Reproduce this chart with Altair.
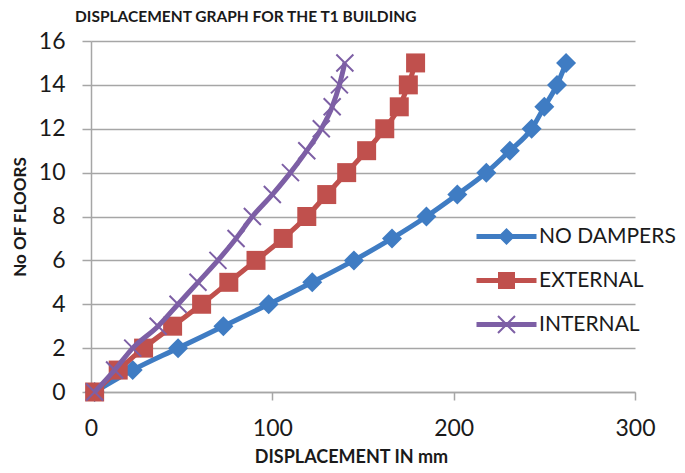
import altair as alt
import pandas as pd

floors = list(range(16))
no_dampers = [2, 23, 48, 73, 98, 122, 145, 166, 185, 202, 218, 231, 243, 250, 257, 262]
external = [2, 15, 29, 45, 61, 76, 91, 106, 119, 130, 141, 152, 162, 170, 175, 179]
internal = [2, 13, 23, 37, 48, 59, 70, 80, 89, 100, 110, 119, 127, 133, 137, 140]

series_names = ["NO DAMPERS", "EXTERNAL", "INTERNAL"]
series_vals = [no_dampers, external, internal]
colors = ["#3F7CC3", "#C0504D", "#7D5FA5"]

y_ticks = list(range(0, 17, 2))
x_ticks = [0, 100, 200, 300]

rows = []
for name, vals in zip(series_names, series_vals):
    for f, v in zip(floors, vals):
        rows.append({"series": name, "floor": f, "disp": v})
df = pd.DataFrame(rows)

# marker shapes (filled paths)
DIAMOND = "M0,-1L1,0L0,1L-1,0Z"
SQUARE = "M-0.95,-0.95H0.95V0.95H-0.95Z"
XMARK = ("M-0.78,-0.92L0.92,0.78L0.78,0.92L-0.92,-0.78Z"
         "M-0.92,0.78L0.78,-0.92L0.92,-0.78L-0.78,0.92Z")
LINE = "M-3,-0.25H3V0.25H-3Z"
marker_paths = [DIAMOND, SQUARE, XMARK]
legend_paths = [LINE + "M0,-0.85L0.85,0L0,0.85L-0.85,0Z",
                LINE + "M-0.85,-0.85H0.85V0.85H-0.85Z",
                LINE + XMARK]

FONT = "Lato"
GRID = "#A6A6A6"

x_enc = alt.X("disp:Q", scale=alt.Scale(domain=[0, 300], nice=False),
              axis=alt.Axis(values=x_ticks, grid=False, title="DISPLACEMENT IN mm",
                            tickSize=8, labelPadding=17, titlePadding=8,
                            labelFlush=False, titleFontSize=18, titleX=260))
y_enc = alt.Y("floor:Q", scale=alt.Scale(domain=[0, 16], nice=False),
              axis=alt.Axis(values=y_ticks, grid=True, title="No OF FLOORS",
                            tickSize=9, labelPadding=17, titlePadding=9,
                            labelFlush=False, titleFontSize=17))
color_scale = alt.Scale(domain=series_names, range=colors)

layers = []
for name in series_names:
    base = alt.Chart(df).transform_filter(alt.datum.series == name)
    line = base.mark_line(strokeWidth=5, interpolate="monotone").encode(
        x=x_enc, y=y_enc,
        color=alt.Color("series:N", scale=color_scale, legend=None),
    )
    pts = base.mark_point(filled=True, size=400, opacity=1).encode(
        x=x_enc, y=y_enc,
        color=alt.Color("series:N", scale=color_scale, legend=None),
        shape=alt.Shape("series:N", scale=alt.Scale(domain=series_names, range=marker_paths),
                        legend=None),
    )
    layers += [line, pts]

leg = alt.Legend(title=None, orient="none", legendX=405, legendY=185,
                 symbolSize=400, symbolOpacity=1, symbolStrokeWidth=0,
                 labelFont=FONT, labelFontSize=21, labelColor="#1a1a1a",
                 labelOffset=22, rowPadding=22, padding=0, labelLimit=300)
legend_layer = alt.Chart(df).mark_point(filled=True, opacity=0, size=400).encode(
    x=x_enc, y=y_enc,
    color=alt.Color("series:N", scale=color_scale, legend=leg),
    shape=alt.Shape("series:N", scale=alt.Scale(domain=series_names, range=legend_paths),
                    legend=leg),
)
layers.append(legend_layer)

chart = alt.layer(*layers).resolve_scale(
    color="independent", shape="independent"
).properties(
    width=544, height=351,
    autosize=alt.AutoSizeParams(type="none"),
    padding={"left": 83, "top": 33, "right": 42, "bottom": 73},
    title=alt.TitleParams("DISPLACEMENT GRAPH FOR THE T1 BUILDING", anchor="start",
                          frame="group", dx=-16, offset=5, fontSize=15.5,
                          fontWeight="bold", font=FONT, color="#1a1a1a"),
).configure_view(stroke=None).configure_axis(
    labelFont=FONT, labelFontSize=23, labelColor="#1a1a1a",
    titleFont=FONT, titleFontWeight="bold", titleColor="#1a1a1a",
    domainColor=GRID, domainWidth=1.5, tickColor=GRID, tickWidth=1.5,
    gridColor=GRID, gridWidth=1.5,
)

chart.save("out.html", embed_options={"renderer": "svg", "actions": False})
